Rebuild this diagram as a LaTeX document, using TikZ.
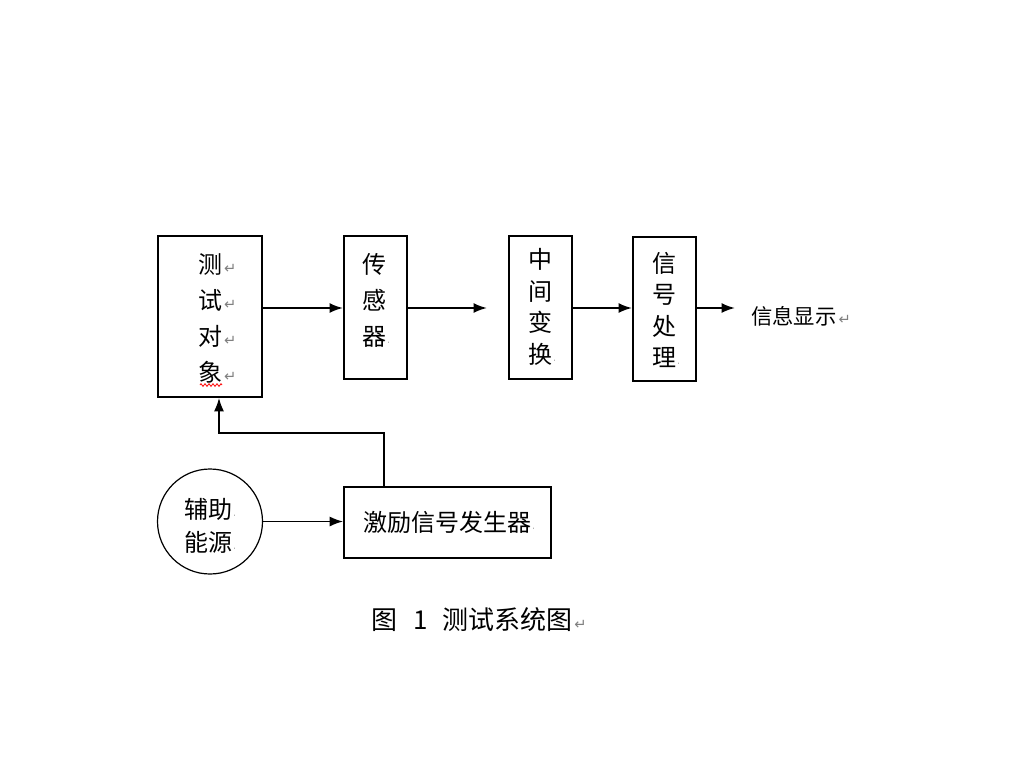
\documentclass[tikz,border=0pt]{standalone}
\usepackage{fontspec}
\newfontfamily\cjk{Noto Sans CJK SC}
\newfontfamily\symf{DejaVu Sans}
\usetikzlibrary{arrows.meta,calc,decorations.pathmorphing}
\newcommand{\retmark}{\rlap{\hspace{1.5pt}\symf\color{gray}\fontsize{11}{11}\selectfont ↵}}
\newcommand{\dotmark}{\rlap{\hspace{1pt}\symf\color{gray}\fontsize{6}{6}\selectfont ·}}
\begin{document}
\begin{tikzpicture}[x=0.75pt,y=-0.75pt,
  box/.style={draw,line width=1.5pt,inner sep=0pt},
  vtext/.style={font=\cjk\fontsize{18}{27}\selectfont,align=center,inner sep=0pt},
  vtexts/.style={font=\cjk\fontsize{18}{23.6}\selectfont,align=center,inner sep=0pt},
  arr/.style={line width=1.5pt,-{Latex[length=10pt,width=7.5pt]}},
  arrt/.style={line width=1.1pt,-{Latex[length=10pt,width=7.5pt]}},
]
\useasboundingbox (0,0) rectangle (1024,768);
\fill[white] (0,0) rectangle (1024,768);
\coordinate (row) at (0,308);

% boxes
\node[box,minimum width=78pt,minimum height=120.75pt] (obj) at (210,316.5) {};
\node[box,minimum width=47.25pt,minimum height=107.25pt] (sens) at (375.5,307.5) {};
\node[box,minimum width=47.25pt,minimum height=107.25pt] (mid) at (540.5,307.5) {};
\node[box,minimum width=47.25pt,minimum height=108pt] (proc) at (664.5,309) {};
\node[box,minimum width=155.25pt,minimum height=53.25pt] (gen) at (447.5,522.5) {};
\node[draw,circle,line width=0.9pt,minimum size=78.75pt,inner sep=0pt] (src) at (210,521.5) {};

% texts
\node[vtext] (objT) at (210,318) {测\retmark\\试\retmark\\对\retmark\\象\retmark};
\node[vtext] (sensT) at (374,300) {传\\感\\器\dotmark};
\node[vtexts] (midT) at (540,307) {中\\间\\变\\换\dotmark};
\node[vtexts] (procT) at (664,310) {信\\号\\处\\理\dotmark};
\node[font=\cjk\fontsize{16}{16}\selectfont,anchor=west,inner sep=0pt] (disp) at (751,316) {信息显示\retmark};
\node[font=\cjk\fontsize{18}{18}\selectfont,inner sep=0pt] (genT) at (447,522) {激励信号发生器\dotmark};
\node[font=\cjk\fontsize{18}{24.75}\selectfont,align=center,inner sep=0pt] (srcT) at (208,526) {辅助\dotmark\\能源\dotmark};
\node[font=\cjk\fontsize{19.5}{19.5}\selectfont,anchor=west,inner sep=0pt] (cap) at (371,620) {图\hspace{12pt}1\hspace{11pt}测试系统图\retmark};

% red wavy underline
\draw[red,line width=0.6pt,decorate,decoration={zigzag,amplitude=1pt,segment length=3pt}] (200,385) -- (222,385);

% connectors
\coordinate (e1) at (487,308);
\coordinate (e2) at (735,308);
\draw[arr] (obj.east |- row) -- (sens.west |- row);
\draw[arr] (sens.east |- row) -- (e1);
\draw[arr] (mid.east |- row) -- (proc.west |- row);
\draw[arr] (proc.east |- row) -- (e2);
\draw[arrt] (src.east) -- (gen.west |- src.east);
\draw[arrt] ($(gen.north west)+(41,0)$) |- ($(obj.south west)+(62,35)$) -- ($(obj.south west)+(62,0)$);
\end{tikzpicture}
\end{document}
